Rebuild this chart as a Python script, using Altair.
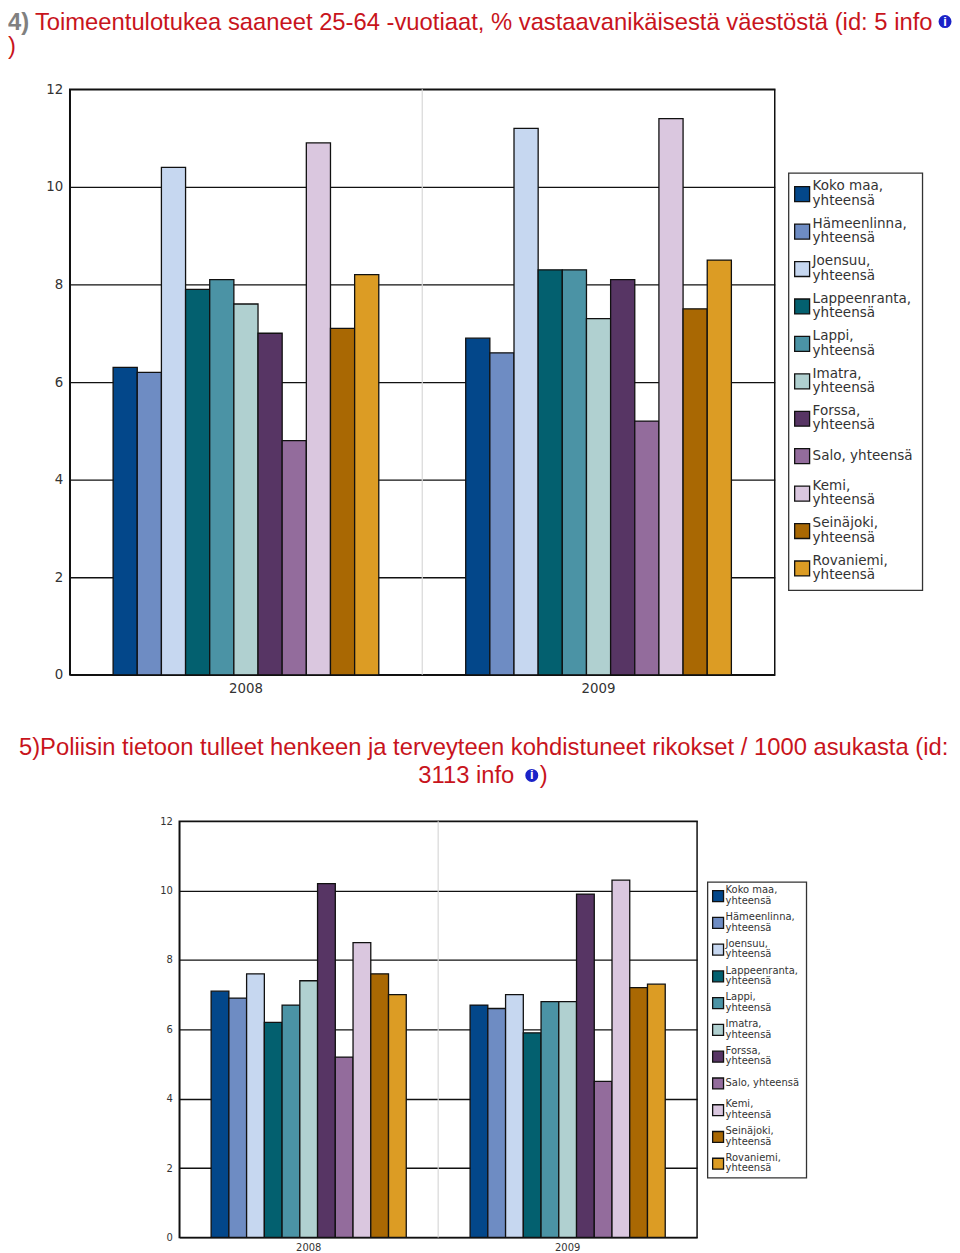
import altair as alt
import pandas as pd

names = ["Koko maa, yhteensä", "Hämeenlinna, yhteensä", "Joensuu, yhteensä", "Lappeenranta, yhteensä",
         "Lappi, yhteensä", "Imatra, yhteensä", "Forssa, yhteensä", "Salo, yhteensä", "Kemi, yhteensä",
         "Seinäjoki, yhteensä", "Rovaniemi, yhteensä"]
labels = ["Koko maa,|yhteensä", "Hämeenlinna,|yhteensä", "Joensuu,|yhteensä", "Lappeenranta,|yhteensä",
          "Lappi,|yhteensä", "Imatra,|yhteensä", "Forssa,|yhteensä", "Salo, yhteensä", "Kemi,|yhteensä",
          "Seinäjoki,|yhteensä", "Rovaniemi,|yhteensä"]
colors = ["#03478a", "#6e8cc3", "#c6d7f0", "#03606f", "#4b93a5", "#b0d0d0", "#573564", "#936c9c", "#dac7df",
          "#a96803", "#dc9c24"]
years = ["2008", "2009"]
ticks = [0, 2, 4, 6, 8, 10, 12]

c1_2008 = [6.3, 6.2, 10.4, 7.9, 8.1, 7.6, 7.0, 4.8, 10.9, 7.1, 8.2]
c1_2009 = [6.9, 6.6, 11.2, 8.3, 8.3, 7.3, 8.1, 5.2, 11.4, 7.5, 8.5]
c2_2008 = [7.1, 6.9, 7.6, 6.2, 6.7, 7.4, 10.2, 5.2, 8.5, 7.6, 7.0]
c2_2009 = [6.7, 6.6, 7.0, 5.9, 6.8, 6.8, 9.9, 4.5, 10.3, 7.2, 7.3]

RED = "#c8141c"
one = pd.DataFrame({"a": [0]})
legend_df = pd.DataFrame({"kunta": names, "teksti": labels})
two_line = legend_df[legend_df["teksti"].str.contains("|", regex=False)]
one_line = legend_df[~legend_df["teksti"].str.contains("|", regex=False)]
color_enc = alt.Color("kunta:N", sort=names, scale=alt.Scale(domain=names, range=colors), legend=None)


def frame(v08, v09):
    return pd.DataFrame({
        "vuosi": ["2008"] * 11 + ["2009"] * 11,
        "kunta": names * 2,
        "arvo": list(v08) + list(v09),
    })


def panel(v08, v09, w, h, font, lfont, lh, sym, box, rows, symx, labx, xpad):
    df = frame(v08, v09)
    x = alt.X("vuosi:N", title=None, sort=years,
              scale=alt.Scale(domain=years, paddingInner=0.2465, paddingOuter=0.123),
              axis=alt.Axis(labelAngle=0, ticks=False, domain=False, labelFont="DejaVu Sans",
                            labelFontSize=font, labelColor="#333333", labelPadding=xpad, grid=False))
    sep = alt.Chart(pd.DataFrame({"vuosi": ["2009"]})).mark_rule(color="#d8d8d8", strokeWidth=1.2).encode(
        x=alt.X("vuosi:N", bandPosition=0, sort=years, title=None, axis=None,
                scale=alt.Scale(domain=years, paddingInner=0, paddingOuter=0))
    )
    bars = alt.Chart(df).mark_bar(stroke="#111111", strokeWidth=1.3).encode(
        x=x,
        xOffset=alt.XOffset("kunta:N", sort=names,
                            scale=alt.Scale(domain=names, paddingInner=0, paddingOuter=0)),
        y=alt.Y("arvo:Q", title=None,
                scale=alt.Scale(domain=[0, 12], nice=False),
                axis=alt.Axis(values=ticks, format="d", ticks=False, domainColor="#111111", domainWidth=1.5,
                              grid=True, gridColor="#111111", gridWidth=1.3, gridOpacity=1,
                              labelFont="DejaVu Sans", labelFontSize=font, labelColor="#333333",
                              labelPadding=7)),
        color=color_enc,
    )
    bx0, by0, bw, bh = box
    frame_rect = alt.Chart(one).mark_rect(fill="white", stroke="#333333", strokeWidth=1.3).encode(
        x=alt.value(bx0), x2=alt.value(bx0 + bw), y=alt.value(by0), y2=alt.value(by0 + bh))
    row_y = alt.Y("kunta:N", sort=names, title=None, axis=None,
                  scale=alt.Scale(domain=names, range=list(rows), paddingInner=0, paddingOuter=0))
    syms = alt.Chart(legend_df).mark_square(size=sym, stroke="#111111", strokeWidth=1.3, opacity=1).encode(
        x=alt.value(bx0 + symx), y=row_y, color=color_enc)

    def legend_text(data, dy):
        return alt.Chart(data).mark_text(font="DejaVu Sans", fontSize=lfont, color="#333333", align="left",
                                         baseline="middle", lineBreak="|", lineHeight=lh, dy=dy).encode(
            x=alt.value(bx0 + labx), y=row_y, text="teksti:N")

    return alt.layer(sep, bars, frame_rect, syms, legend_text(two_line, -lh / 2 - 0.5),
                     legend_text(one_line, -0.5)).resolve_scale(x="independent", y="independent").properties(
        width=w, height=h, view=alt.ViewBackground(stroke="#111111", strokeWidth=1.5))


def txt(s, x, y, color=RED, bold=False, size=23.9):
    return alt.Chart(one).mark_text(font="Liberation Sans", fontSize=size, color=color, align="left",
                                    baseline="alphabetic", fontWeight="bold" if bold else "normal").encode(
        x=alt.value(x), y=alt.value(y), text=alt.value(s))


def icon(x, y):
    dot = alt.Chart(one).mark_point(filled=True, color="#1a22c8", opacity=1, size=170, shape="circle").encode(
        x=alt.value(x), y=alt.value(y))
    i = alt.Chart(one).mark_text(font="Liberation Sans", fontSize=13, fontWeight="bold", color="white",
                                 align="center", baseline="middle").encode(
        x=alt.value(x), y=alt.value(y), text=alt.value("i"))
    return dot + i


def spacer(w):
    return alt.Chart(one).mark_point(opacity=0).properties(width=w, height=1)


title1 = alt.layer(
    txt("4)", 0, 19, "#808080", True),
    txt("Toimeentulotukea saaneet 25-64 -vuotiaat, % vastaavanikäisestä väestöstä (id: 5 info", 27, 19),
    icon(941, 11),
    txt(")", 0, 44),
).properties(width=944, height=71)

title2 = alt.layer(
    txt("5)Poliisin tietoon tulleet henkeen ja terveyteen kohdistuneet rikokset / 1000 asukasta (id:", 11, 59),
    txt("3113 info", 412, 87),
    icon(526, 79),
    txt(")", 534, 87),
).properties(width=944, height=119)

chart1 = panel(c1_2008, c1_2009, 708, 588, 13.4, 13.6, 14.5, 225,
               (722, 84.2, 134.4, 419), (86.5, 500), 13.5, 24, 7)
chart2 = panel(c2_2008, c2_2009, 520, 418, 10, 10, 10.6, 120,
               (530.6, 61.2, 99.3, 297), (61.8, 357.4), 10.5, 18, 5)

row1 = alt.hconcat(spacer(37), chart1, spacing=0).resolve_scale(color="independent", xOffset="independent")
row2 = alt.hconcat(spacer(151), chart2, spacing=0).resolve_scale(color="independent", xOffset="independent")

chart = alt.vconcat(
    title1,
    row1,
    title2,
    row2,
    spacing=0,
).resolve_scale(color="independent", xOffset="independent").properties(
    padding=0, background="white").configure_view(stroke=None)

chart.save("out.html", embed_options={"renderer": "svg", "actions": False})
